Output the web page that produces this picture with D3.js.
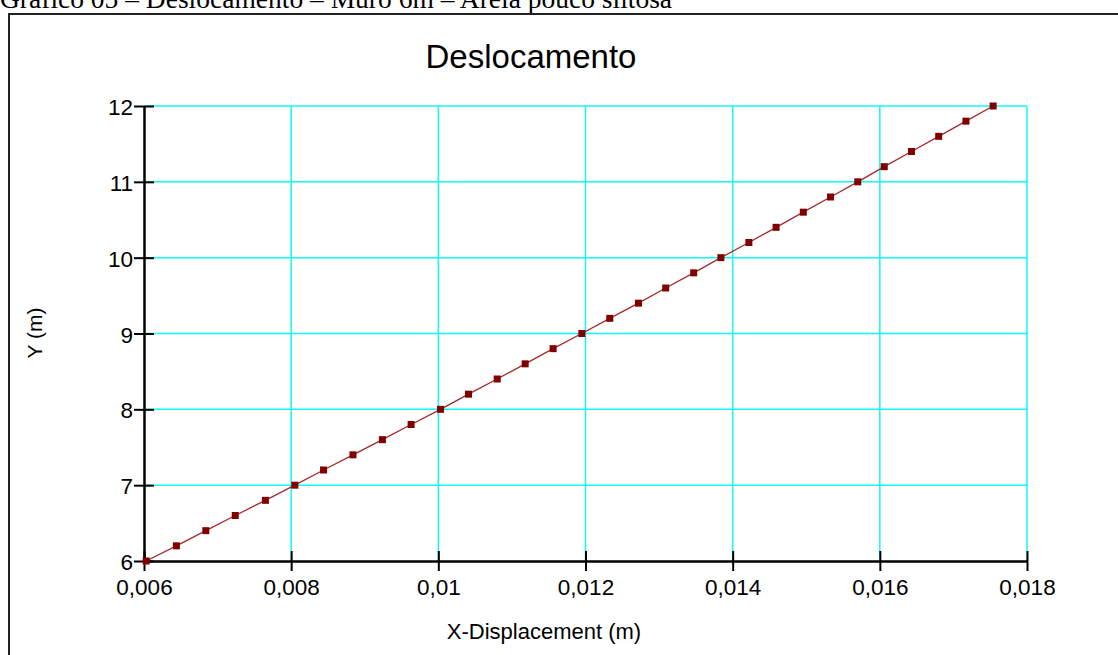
<!DOCTYPE html>
<html>
<head>
<meta charset="utf-8">
<script src="https://cdn.jsdelivr.net/npm/d3@7"></script>
<style>
  html, body { margin: 0; padding: 0; background: #fff; }
  svg { display: block; }
</style>
</head>
<body>
<svg id="chart" width="1118" height="655"></svg>
<script>
// Horizontal displacement (m) along the wall height Y (m)
const yValues = [6.0, 6.2, 6.4, 6.6, 6.8, 7.0, 7.2, 7.4, 7.6, 7.8,
                 8.0, 8.2, 8.4, 8.6, 8.8, 9.0, 9.2, 9.4, 9.6, 9.8,
                 10.0, 10.2, 10.4, 10.6, 10.8, 11.0, 11.2, 11.4, 11.6, 11.8, 12.0];
const xDisplacement = [0.00603, 0.00644, 0.00684, 0.00724, 0.00765, 0.00805, 0.00844, 0.00884, 0.00924, 0.00963,
                       0.01003, 0.01041, 0.01080, 0.01118, 0.01156, 0.01195, 0.01233, 0.01272, 0.01309, 0.01347,
                       0.01384, 0.01422, 0.01459, 0.01496, 0.01533, 0.01570, 0.01606, 0.01643, 0.01680, 0.01717, 0.01754];
const xTicks = [0.006, 0.008, 0.01, 0.012, 0.014, 0.016, 0.018];
const xTickLabels = ["0,006", "0,008", "0,01", "0,012", "0,014", "0,016", "0,018"];
const yTicks = [6, 7, 8, 9, 10, 11, 12];

const captionText = "Gráfico 05 – Deslocamento – Muro 6m – Areia pouco siltosa";
const titleText = "Deslocamento";
const xTitle = "X-Displacement (m)";
const yTitle = "Y (m)";

const svg = d3.select("#chart");
const plot = { left: 144, right: 1027, top: 106, bottom: 561 };

const x = d3.scaleLinear().domain([0.006, 0.018]).range([plot.left, plot.right]);
const y = d3.scaleLinear().domain([6, 12]).range([plot.bottom, plot.top]);

// Caption above the frame
svg.append("text")
  .attr("x", 0).attr("y", 8)
  .attr("font-family", "'Liberation Serif', 'Times New Roman', serif")
  .attr("font-size", 27.5)
  .attr("fill", "#000")
  .text(captionText);

// Outer frame (left and top edges)
svg.append("path")
  .attr("d", `M9,655 L9,14 L1118,14`)
  .attr("fill", "none")
  .attr("stroke", "#222")
  .attr("stroke-width", 2);

// Chart title
svg.append("text")
  .attr("x", 531).attr("y", 68)
  .attr("text-anchor", "middle")
  .attr("font-family", "'Liberation Sans', Arial, sans-serif")
  .attr("font-size", 33)
  .attr("fill", "#000")
  .text(titleText);

// Grid lines
const grid = svg.append("g").attr("stroke", "#10f8f8").attr("stroke-width", 1.5);
grid.selectAll("line.v").data(xTicks.slice(1)).join("line")
  .attr("x1", d => x(d)).attr("x2", d => x(d))
  .attr("y1", plot.top).attr("y2", plot.bottom);
grid.selectAll("line.h").data(yTicks.slice(1)).join("line")
  .attr("x1", plot.left).attr("x2", plot.right)
  .attr("y1", d => y(d)).attr("y2", d => y(d));

// Axes: lines with ticks crossing the axis
const xAxis = d3.axisBottom(x).tickValues(xTicks)
  .tickFormat((d, i) => xTickLabels[i]).tickSizeInner(10).tickSizeOuter(0).tickPadding(8);
const yAxis = d3.axisLeft(y).tickValues(yTicks)
  .tickFormat(d => d).tickSizeInner(10).tickSizeOuter(0).tickPadding(1);

const gx = svg.append("g").attr("transform", `translate(0,${plot.bottom})`).call(xAxis);
const gy = svg.append("g").attr("transform", `translate(${plot.left},0)`).call(yAxis);

[gx, gy].forEach(g => {
  g.select(".domain").attr("stroke", "#000").attr("stroke-width", 2.5);
  g.selectAll(".tick line").attr("stroke", "#000").attr("stroke-width", 2);
  g.selectAll(".tick text")
    .attr("font-family", "'Liberation Sans', Arial, sans-serif")
    .attr("font-size", 22.5)
    .attr("fill", "#000");
});
gx.selectAll(".tick line").attr("y1", -10).attr("y2", 10);
gy.selectAll(".tick line").attr("x1", -10).attr("x2", 10);
gy.selectAll(".tick text").attr("x", -11).attr("dy", "0.38em");
gx.selectAll(".tick text").attr("dy", "0.71em");

// Axis titles
svg.append("text")
  .attr("x", 544).attr("y", 639)
  .attr("text-anchor", "middle")
  .attr("font-family", "'Liberation Sans', Arial, sans-serif")
  .attr("font-size", 22)
  .attr("fill", "#000")
  .text(xTitle);

svg.append("text")
  .attr("transform", `translate(42,333) rotate(-90)`)
  .attr("text-anchor", "middle")
  .attr("font-family", "'Liberation Sans', Arial, sans-serif")
  .attr("font-size", 21)
  .attr("fill", "#000")
  .text(yTitle);

// Series line and square markers
const pts = yValues.map((v, i) => ({ x: xDisplacement[i], y: v }));
svg.append("path")
  .datum(pts)
  .attr("fill", "none")
  .attr("stroke", "#a52a2a")
  .attr("stroke-width", 1.3)
  .attr("d", d3.line().x(d => x(d.x)).y(d => y(d.y)));

const s = 7;
svg.selectAll("rect.marker").data(pts).join("rect")
  .attr("class", "marker")
  .attr("x", d => x(d.x) - s / 2).attr("y", d => y(d.y) - s / 2)
  .attr("width", s).attr("height", s)
  .attr("fill", "#800000");
</script>
</body>
</html>
